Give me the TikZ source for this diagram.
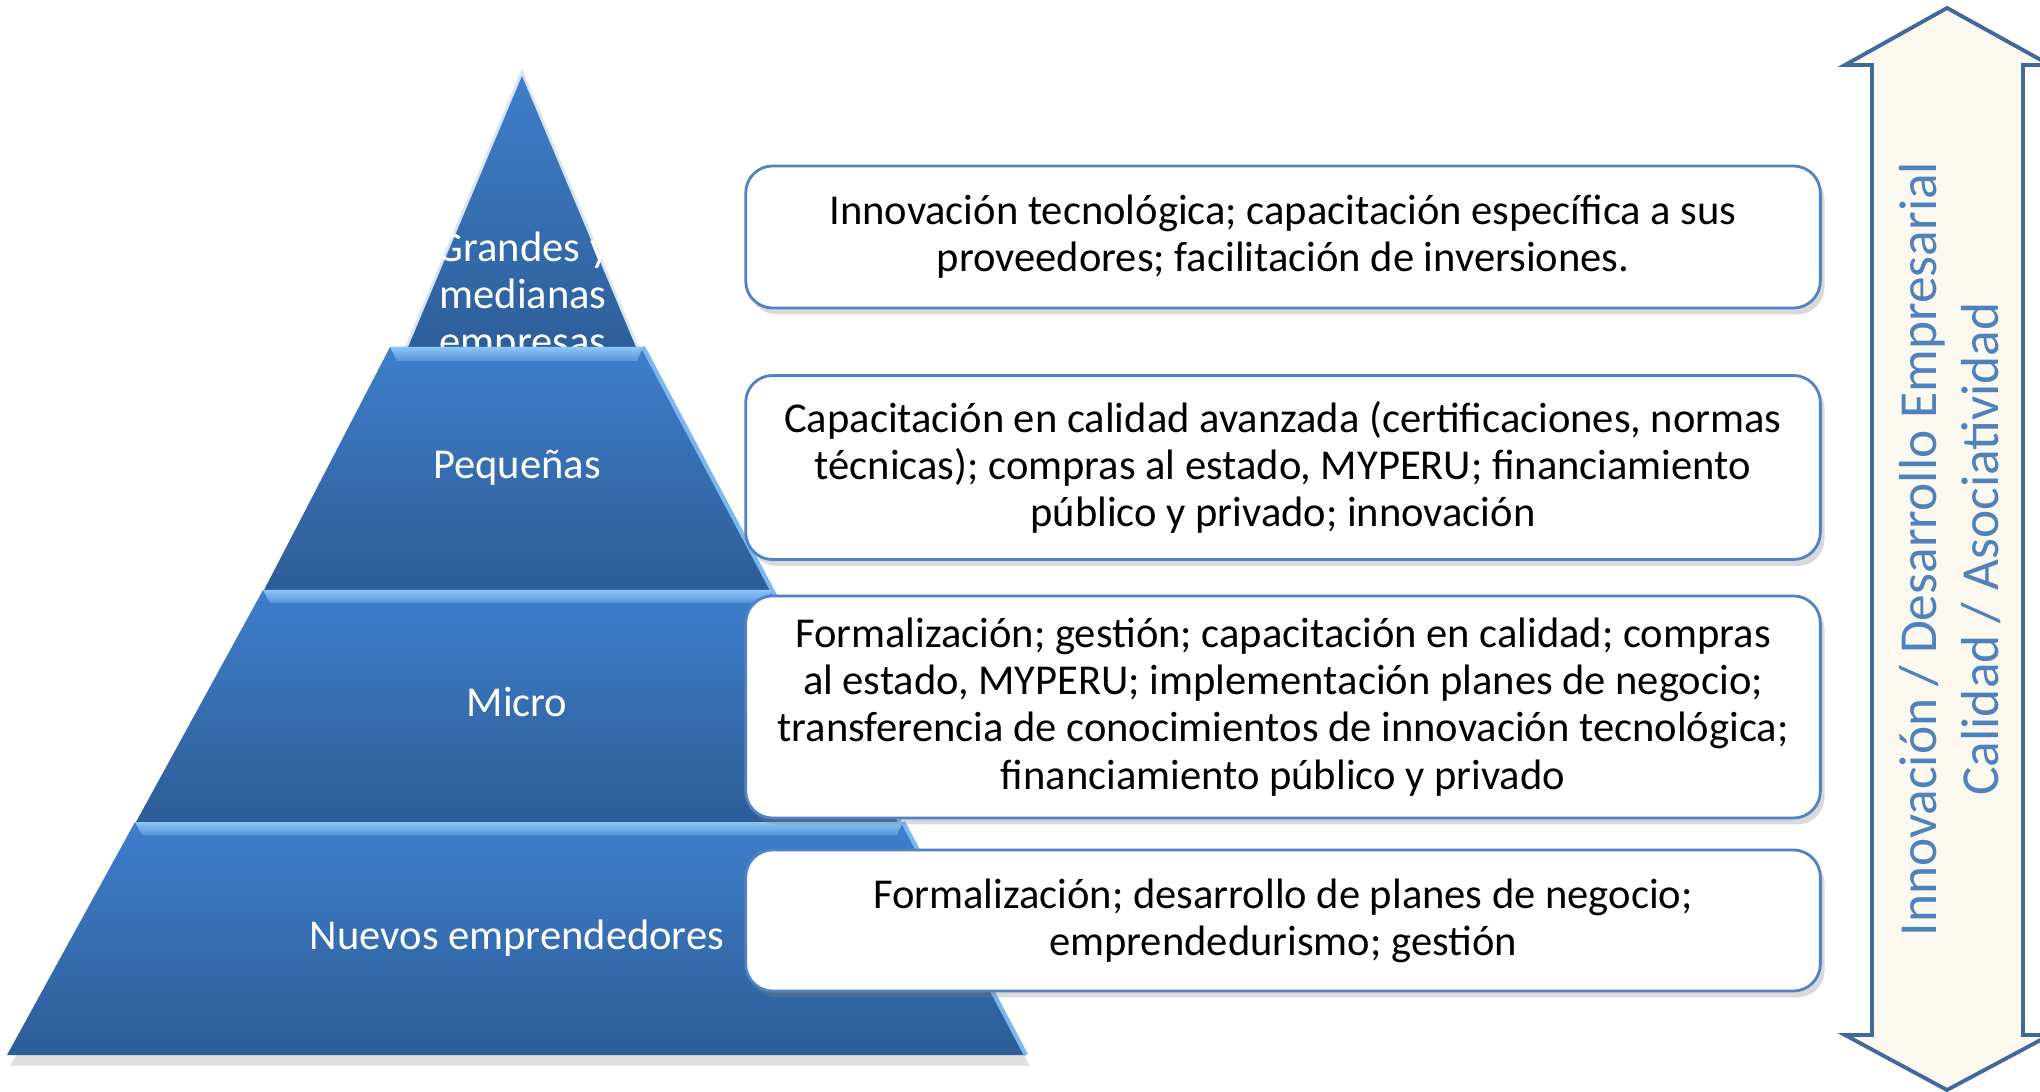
\documentclass[tikz,border=0pt]{standalone}
\usepackage{fontspec}
\setmainfont{Carlito}
\usetikzlibrary{shadows}
\definecolor{pyrtop}{HTML}{3E7ECB}
\definecolor{pyrbot}{HTML}{2D5D97}
\definecolor{bevel}{HTML}{8CC6F6}
\definecolor{boxline}{HTML}{4F83C6}
\definecolor{arrowfill}{HTML}{FBF9EF}
\definecolor{arrowline}{HTML}{41699C}
\definecolor{arrowtext}{HTML}{4F81BD}
\tikzstyle{tier} = [top color=pyrtop, bottom color=pyrbot]
\tikzstyle{stripe} = [top color=bevel, bottom color=pyrtop!70!bevel]
\tikzstyle{rimlight} = [draw=bevel!80!pyrtop, line width=1.2pt]
\tikzstyle{tierlabel} = [text=white, align=center,
    font=\fontsize{12.1}{13.4}\selectfont]
\tikzstyle{infobox} = [rectangle, draw=boxline, line width=0.8pt, fill=white,
    rounded corners=2.7mm, minimum width=10.74cm, align=center,
    font=\fontsize{12.1}{13.4}\selectfont,
    drop shadow={opacity=0.3, shadow xshift=1.2pt, shadow yshift=-1.8pt}]
\tikzstyle{arrowbody} = [fill=arrowfill, draw=arrowline, line width=1.1pt, line join=miter]
\tikzstyle{arrowlabel} = [text=arrowtext, align=center,
    font=\fontsize{15.2}{17.4}\selectfont]

\begin{document}
\begin{tikzpicture}[x=0.01cm, y=-0.01cm]
    \useasboundingbox (0,0) rectangle (2040,1092);

    % pyramid, top to bottom
    \path[tier, draw=white!80!pyrtop, line width=0.8pt] (522,72) -- (643,360) -- (401,360) -- cycle;
    \node[tierlabel] (big) at (523,297) {Grandes y\\medianas\\empresas};

    \path[tier] (390,347) -- (643,347) -- (772,590) -- (264,590) -- cycle;
    \path[stripe] (390,347) -- (643,347) -- (637,361) -- (397,361) -- cycle;
    \draw[rimlight] (643,347) -- (772,590);
    \node[tierlabel] (small) at (517,468) {Pequeñas};

    \path[tier] (263,590) -- (772,590) -- (900,822) -- (136,822) -- cycle;
    \path[stripe] (263,590) -- (772,590) -- (766,603) -- (270,603) -- cycle;
    \draw[rimlight] (772,590) -- (900,822);
    \node[tierlabel] (micro) at (517,702) {Micro};

    \path[tier, drop shadow={opacity=0.25, shadow xshift=1pt, shadow yshift=-3pt}]
        (135,822) -- (903,822) -- (1026,1055) -- (7,1055) -- cycle;
    \path[stripe] (135,822) -- (903,822) -- (897,835) -- (142,835) -- cycle;
    \draw[rimlight] (903,822) -- (1026,1055);
    \node[tierlabel] (new) at (517,938) {Nuevos emprendedores};

    % actions per level
    \node[infobox, minimum height=1.42cm] (inno) at (1283,237)
        {Innovación tecnológica; capacitación específica a sus\\proveedores; facilitación de inversiones.};
    \node[infobox, minimum height=1.84cm] (quality) at (1283,467.5)
        {Capacitación en calidad avanzada (certificaciones, normas\\técnicas); compras al estado, MYPERU; financiamiento\\público y privado; innovación};
    \node[infobox, minimum height=2.22cm] (formal) at (1283,707)
        {Formalización; gestión; capacitación en calidad; compras\\al estado, MYPERU; implementación planes de negocio;\\transferencia de conocimientos de innovación tecnológica;\\financiamiento público y privado};
    \node[infobox, minimum height=1.41cm] (start) at (1283,920.5)
        {Formalización; desarrollo de planes de negocio;\\emprendedurismo; gestión};

    % double arrow on the right
    \filldraw[arrowbody] (1947,8) -- (2050,65) -- (2023,65) -- (2023,1035) -- (2050,1035)
        -- (1947,1090) -- (1845,1035) -- (1872,1035) -- (1872,65) -- (1845,65) -- cycle;
    \node[arrowlabel, rotate=90] (axes) at (1950,549)
        {Innovación / Desarrollo Empresarial\\Calidad / Asociatividad};
\end{tikzpicture}
\end{document}
